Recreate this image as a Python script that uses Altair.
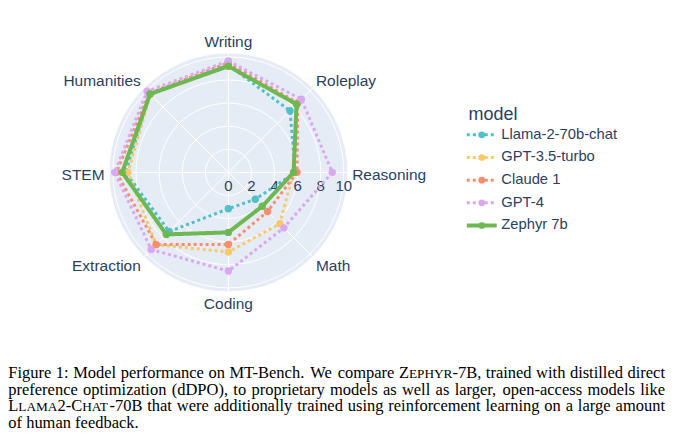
import altair as alt
import pandas as pd

# ---------------- data ----------------
categories = ["Writing", "Roleplay", "Reasoning", "Math", "Coding", "Extraction", "STEM", "Humanities"]
models = ["Llama-2-70b-chat", "GPT-3.5-turbo", "Claude 1", "GPT-4", "Zephyr 7b"]
llama = [9.30, 7.55, 5.80, 3.30, 3.15, 7.25, 8.90, 9.60]
gpt35 = [9.20, 8.40, 5.65, 6.30, 6.90, 8.85, 8.70, 9.55]
claude = [9.50, 8.50, 5.95, 4.80, 6.25, 8.85, 9.70, 9.70]
gpt4 = [9.65, 8.95, 9.00, 6.80, 8.55, 9.45, 9.85, 9.95]
zephyr = [9.20, 8.35, 5.65, 4.15, 5.20, 7.60, 9.20, 9.60]
radial_ticks = [0, 2, 4, 6, 8, 10]
grid_rings = [2, 4, 6, 8, 10]
legend_title = "model"

# caption: lines -> words -> runs (text, small-caps?)
caption_lines = [
    ["Figure", "1:", "Model", "performance", "on", "MT-Bench.", "We", "compare",
     [("Z", False), ("EPHYR", True), ("-7B,", False)], "trained", "with", "distilled", "direct"],
    ["preference", "optimization", "(dDPO),", "to", "proprietary", "models", "as", "well", "as",
     "larger,", "open-access", "models", "like"],
    [[("L", False), ("LAMA", True), ("2-C", False), ("HAT", True), ("-70B", False)], "that", "were",
     "additionally", "trained", "using", "reinforcement", "learning", "on", "a", "large", "amount"],
    ["of", "human", "feedback."],
]

# ---------------- style / layout ----------------
colors = ["#4fbfc8", "#f8c96a", "#f88e6f", "#d9a8ef", "#6db852"]
dashes = [[3, 3], [3, 3], [3, 3], [3, 3], [1, 0]]
widths = [3, 3, 3, 3, 4]
TXT = "#2a3f5f"
BG = "#E5ECF6"
W, H = 665, 424
CX, CY, K = 219.7, 164.3, 11.56     # centre (plot coords) and px per unit
R_EDGE = 10.35                      # radial range max
RLAB = 124                          # label distance (px)
SANS = "Liberation Sans"
SERIF = "Liberation Serif"

series = [llama, gpt35, claude, gpt4, zephyr]
rows = []
for m, vals in zip(models, series):
    for i, (c, v) in enumerate(zip(categories + categories[:1], vals + vals[:1])):
        rows.append({"model": m, "category": c, "value": v, "idx": i})
df = pd.DataFrame(rows)
cat_df = pd.DataFrame({"category": categories, "idx": list(range(len(categories)))})
ring_df = pd.DataFrame({"r": grid_rings + [R_EDGE]})
tick_df = pd.DataFrame({"t": radial_ticks})
leg_df = pd.DataFrame({"model": models, "i": list(range(len(models)))})

NCAT = len(categories)
xs = alt.Scale(domain=[0, W], nice=False, zero=False)
ys = alt.Scale(domain=[0, H], reverse=True, nice=False, zero=False)


def X(f):
    return alt.X(f, type="quantitative", scale=xs, axis=None)


def Y(f):
    return alt.Y(f, type="quantitative", scale=ys, axis=None)


theta_expr = f"datum.idx * 2 * PI / {NCAT}"
layers = []

# background disc
layers.append(
    alt.Chart(pd.DataFrame({"r": [0]}))
    .transform_calculate(cx=f"{CX}", cy=f"{CY}")
    .mark_point(shape="circle", filled=True, color=BG, opacity=1, strokeWidth=0,
                size=(2 * R_EDGE * K) ** 2)
    .encode(x=X("cx"), y=Y("cy"))
)
# grid rings
layers.append(
    alt.Chart(ring_df)
    .transform_calculate(cx=f"{CX}", cy=f"{CY}", sz=f"pow(2 * datum.r * {K}, 2)")
    .mark_point(shape="circle", filled=False, color="white", opacity=1, strokeWidth=1)
    .encode(x=X("cx"), y=Y("cy"), size=alt.Size("sz:Q", scale=None, legend=None))
)
# spokes
layers.append(
    alt.Chart(cat_df)
    .transform_calculate(theta=theta_expr)
    .transform_calculate(cx=f"{CX}", cy=f"{CY}",
                         ex=f"{CX} + {R_EDGE * K} * sin(datum.theta)",
                         ey=f"{CY} - {R_EDGE * K} * cos(datum.theta)")
    .mark_rule(color="white", strokeWidth=1)
    .encode(x=X("cx"), y=Y("cy"), x2="ex:Q", y2="ey:Q")
)
# radial tick labels
layers.append(
    alt.Chart(tick_df)
    .transform_calculate(px=f"{CX} + datum.t * {K}", py=f"{CY} + 13.3")
    .mark_text(font=SANS, fontSize=15, color=TXT, align="center", baseline="middle")
    .encode(x=X("px"), y=Y("py"), text="t:Q")
)
# category labels
for align, cond in [("left", "datum.s > 0.1"), ("right", "datum.s < -0.1"),
                    ("center", "abs(datum.s) <= 0.1")]:
    layers.append(
        alt.Chart(cat_df)
        .transform_calculate(theta=theta_expr)
        .transform_calculate(s="sin(datum.theta)", c="cos(datum.theta)")
        .transform_filter(cond)
        .transform_calculate(lx=f"{CX} + {RLAB} * datum.s",
                             ly=f"{CY} - {RLAB} * datum.c - 7.5 * datum.c + 1.5 - 0.8 * abs(datum.c) + 1.2 * (1 - abs(datum.c))")
        .mark_text(font=SANS, fontSize=15.5, color=TXT, align=align, baseline="middle")
        .encode(x=X("lx"), y=Y("ly"), text="category:N")
    )
# series
for m, col, dsh, wd in zip(models, colors, dashes, widths):
    base = (
        alt.Chart(df)
        .transform_filter(alt.datum.model == m)
        .transform_calculate(theta=theta_expr)
        .transform_calculate(px=f"{CX} + datum.value * {K} * sin(datum.theta)",
                             py=f"{CY} - datum.value * {K} * cos(datum.theta)")
    )
    layers.append(
        base.mark_line(color=col, strokeDash=dsh, strokeWidth=wd, strokeJoin="round")
        .encode(x=X("px"), y=Y("py"), order="idx:Q")
    )
    layers.append(
        base.transform_filter(f"datum.idx < {NCAT}")
        .mark_point(shape="circle", filled=True, color=col, opacity=1, size=55)
        .encode(x=X("px"), y=Y("py"))
    )

# legend
LX0, LX1, LDOT, LTX, LY0, LDY = 458.5, 488.5, 473.5, 493, 126.7, 22.7
layers.append(
    alt.Chart(pd.DataFrame({"t": [legend_title]}))
    .mark_text(font=SANS, fontSize=18, color=TXT, align="left", baseline="middle")
    .encode(x=alt.value(460.3), y=alt.value(107), text="t:N")
)
for i, (m, col, dsh, wd) in enumerate(zip(models, colors, dashes, widths)):
    lb = (
        alt.Chart(leg_df)
        .transform_filter(alt.datum.model == m)
        .transform_calculate(x0=f"{LX0}", x1=f"{LX1}", xd=f"{LDOT}",
                             ly=f"{LY0} + datum.i * {LDY}")
    )
    layers.append(
        lb.mark_rule(color=col, strokeDash=dsh, strokeWidth=wd)
        .encode(x=X("x0"), x2="x1:Q", y=Y("ly"))
    )
    layers.append(
        lb.mark_point(shape="circle", filled=True, color=col, opacity=1, size=45)
        .encode(x=X("xd"), y=Y("ly"))
    )
layers.append(
    alt.Chart(leg_df)
    .transform_calculate(tx=f"{LTX}", ly=f"{LY0} + datum.i * {LDY}")
    .mark_text(font=SANS, fontSize=14.8, color=TXT, align="left", baseline="middle")
    .encode(x=X("tx"), y=Y("ly"), text="model:N")
)

# ---------------- caption: justified text with small caps ----------------
FS, SC = 16.5, 13.3
CAP_L, CAP_R = -0.7, 657.0
BASES = [370.3, 387.0, 403.7, 420.3]
# Times (Liberation Serif) advance widths, per 1000 em
_TW = dict(zip("ABCDEFGHIJKLMNOPQRSTUVWXYZ",
               [722, 667, 667, 722, 611, 556, 722, 722, 333, 389, 722, 611, 889, 722, 722,
                556, 722, 667, 556, 611, 722, 722, 944, 722, 722, 611]))
_TW.update(zip("abcdefghijklmnopqrstuvwxyz",
               [444, 500, 444, 500, 444, 333, 500, 500, 278, 278, 500, 278, 778, 500, 500,
                500, 500, 333, 389, 278, 500, 500, 722, 500, 500, 444]))
_TW.update({d: 500 for d in "0123456789"})
_TW.update({" ": 250, "(": 333, ")": 333, ",": 250, "-": 333, ".": 250, ":": 278})


def tw(s, size):
    return sum(_TW.get(ch, 500) for ch in s) * size / 1000.0


cap_rows = []
for li, words in enumerate(caption_lines):
    runs_per_word = [[(w, False)] if isinstance(w, str) else w for w in words]
    word_w = [sum(tw(t, SC if sc else FS) for t, sc in runs) for runs in runs_per_word]
    justified = li < len(caption_lines) - 1
    gap = ((CAP_R - CAP_L - sum(word_w)) / (len(words) - 1)) if justified else tw(" ", FS)
    x = CAP_L
    for runs, wwid in zip(runs_per_word, word_w):
        rx = x
        for t, sc in runs:
            size = SC if sc else FS
            cap_rows.append({"t": t, "x": rx, "y": BASES[li], "sc": sc})
            rx += tw(t, size)
        x += wwid + gap
cap_df = pd.DataFrame(cap_rows)
for sc_flag, size in [(False, FS), (True, SC)]:
    layers.append(
        alt.Chart(cap_df[cap_df["sc"] == sc_flag][["t", "x", "y"]])
        .mark_text(font=SERIF, fontSize=size, color="black", align="left", baseline="alphabetic")
        .encode(x=X("x"), y=Y("y"), text="t:N")
    )

chart = (
    alt.layer(*layers)
    .properties(width=W, height=H, padding=0, background="white")
    .configure_view(stroke=None)
)
chart.save("out.html", embed_options={"renderer": "svg", "actions": False})
